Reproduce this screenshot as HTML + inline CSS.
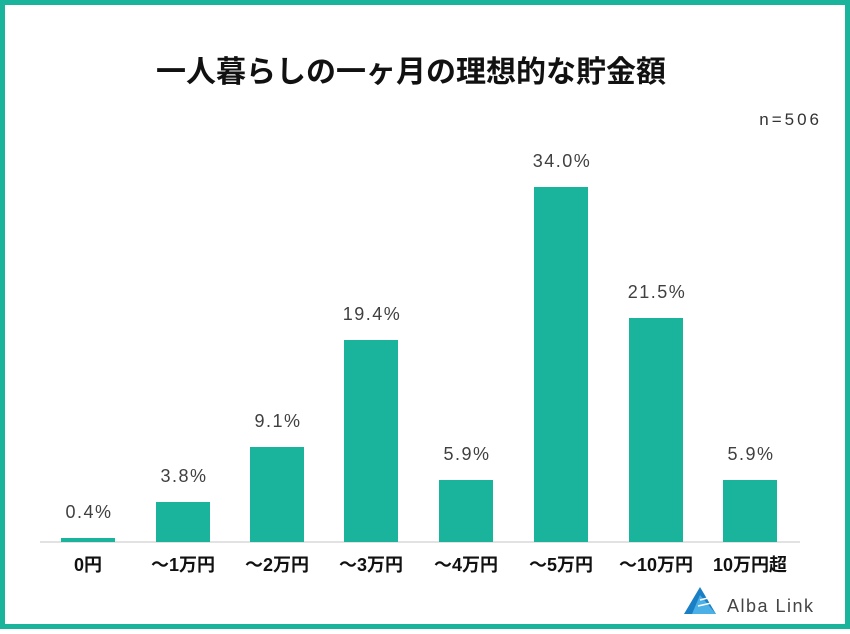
<!DOCTYPE html>
<html><head><meta charset="utf-8"><style>
body{margin:0;width:850px;height:629px;overflow:hidden;background:#fff;font-family:"Liberation Sans","Noto Sans CJK JP",sans-serif}
</style></head><body>
<svg width="850" height="629" xmlns="http://www.w3.org/2000/svg" font-family="Liberation Sans, Noto Sans CJK JP, sans-serif">
<rect x="2.5" y="2.5" width="845" height="624" fill="#fff" stroke="#1ab39b" stroke-width="5"/>
<text x="411" y="82" text-anchor="middle" font-size="30" font-weight="bold" fill="#111">一人暮らしの一ヶ月の理想的な貯金額</text>
<text x="822" y="125" text-anchor="end" font-size="17" fill="#333" letter-spacing="3">n=506</text>
<line x1="40" y1="542" x2="800" y2="542" stroke="#d9d9d9" stroke-width="1.5"/>
<g fill="#1ab39b">
<rect x="61" y="538" width="54" height="4"/>
<rect x="156" y="502" width="54" height="40"/>
<rect x="250" y="447" width="54" height="95"/>
<rect x="344" y="340" width="54" height="202"/>
<rect x="439" y="480" width="54" height="62"/>
<rect x="534" y="187" width="54" height="355"/>
<rect x="629" y="318" width="54" height="224"/>
<rect x="723" y="480" width="54" height="62"/>
</g>
<g font-size="18" fill="#404040" text-anchor="middle" letter-spacing="1.5">
<text x="89" y="518">0.4%</text>
<text x="184" y="482">3.8%</text>
<text x="278" y="427">9.1%</text>
<text x="372" y="320">19.4%</text>
<text x="467" y="460">5.9%</text>
<text x="562" y="167">34.0%</text>
<text x="657" y="298">21.5%</text>
<text x="751" y="460">5.9%</text>
</g>
<g font-size="18" font-weight="bold" fill="#111" text-anchor="middle">
<text x="88" y="571">0円</text>
<text x="183" y="571">～1万円</text>
<text x="277" y="571">～2万円</text>
<text x="371" y="571">～3万円</text>
<text x="466" y="571">～4万円</text>
<text x="561" y="571">～5万円</text>
<text x="656" y="571">～10万円</text>
<text x="750" y="571">10万円超</text>
</g>
<g>
<polygon points="700,587 684,614 716,614" fill="#1a7fc4"/>
<polygon points="700,595 692,614 716,614" fill="#4bb0e6"/>
<line x1="700" y1="600" x2="716" y2="596" stroke="#fff" stroke-width="1.5"/>
<line x1="698" y1="606" x2="716" y2="602" stroke="#fff" stroke-width="1.5"/>
</g>
<text x="727" y="612" font-size="18" fill="#444" letter-spacing="1.5">Alba Link</text>
</svg>
</body></html>
